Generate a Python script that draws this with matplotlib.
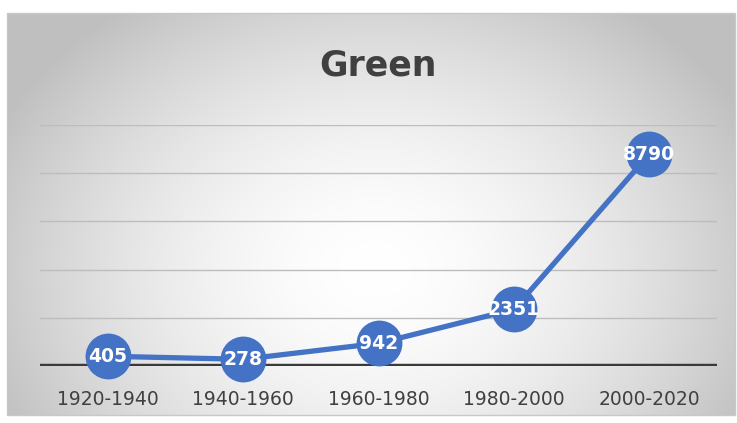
import numpy as np
import matplotlib
matplotlib.use("Agg")
import matplotlib.pyplot as plt
from matplotlib.patches import Rectangle

categories = ["1920-1940", "1940-1960", "1960-1980", "1980-2000", "2000-2020"]
values = [405, 278, 942, 2351, 8790]
title = "Green"

W, H = 737, 423
fig = plt.figure(figsize=(W / 100, H / 100), dpi=100)
fig.patch.set_facecolor("white")

# background with radial gradient
bg = fig.add_axes([0, 0, 1, 1])
bg.set_xlim(0, W)
bg.set_ylim(H, 0)
bg.axis("off")
x0, x1, y0, y1 = 7, 735, 13, 415
xs = np.linspace(x0, x1, 400)
ys = np.linspace(y0, y1, 250)
X, Y = np.meshgrid(xs, ys)
cx, cy = 375, 270
rx, ry = 420, 330
d = np.sqrt(((X - cx) / rx) ** 2 + ((Y - cy) / ry) ** 2)
d = np.clip(d, 0, 1)
c = 1.0 - (1.0 - 0.75) * d ** 1.7
img = np.dstack([c, c, c])
bg.imshow(img, extent=[x0, x1, y1, y0], aspect="auto", interpolation="bilinear")
bg.add_patch(Rectangle((x0, y0), x1 - x0, y1 - y0, fill=False, edgecolor="#c8c8c8", lw=1))

# main axes
left, right = 40 / W, 717 / W
bottom, top = (H - 366) / H, (H - 125) / H
ax = fig.add_axes([left, bottom, right - left, top - bottom])
ax.set_facecolor("none")
ax.set_xlim(-0.5, len(categories) - 0.5)
ax.set_ylim(0, 10000)
for s in ax.spines.values():
    s.set_visible(False)
ax.set_yticks([])
for g in [2000, 4000, 6000, 8000, 10000]:
    ax.axhline(g, color="#bdbdbd", lw=1.0, zorder=1)
ax.axhline(0, color="#3a3a3a", lw=3.2, zorder=2)
x = np.arange(len(categories))
ax.plot(x, values, color="#4472C4", lw=3.8, marker="o", markersize=32,
        markerfacecolor="#4472C4", markeredgecolor="#4472C4", zorder=3, clip_on=False,
        solid_capstyle="round")
for xi, v in zip(x, values):
    ax.text(xi, v, str(v), color="white", fontsize=13.5, fontweight="bold",
            ha="center", va="center", zorder=4)
ax.set_xticks(x)
ax.set_xticklabels(categories, fontsize=13.5, color="#404040")
ax.tick_params(axis="x", length=0, pad=17)

fig.text(0.513, 1 - 66 / H, title, fontsize=25, fontweight="bold", color="#404040",
         ha="center", va="center")

fig.savefig("out.png", dpi=100)
